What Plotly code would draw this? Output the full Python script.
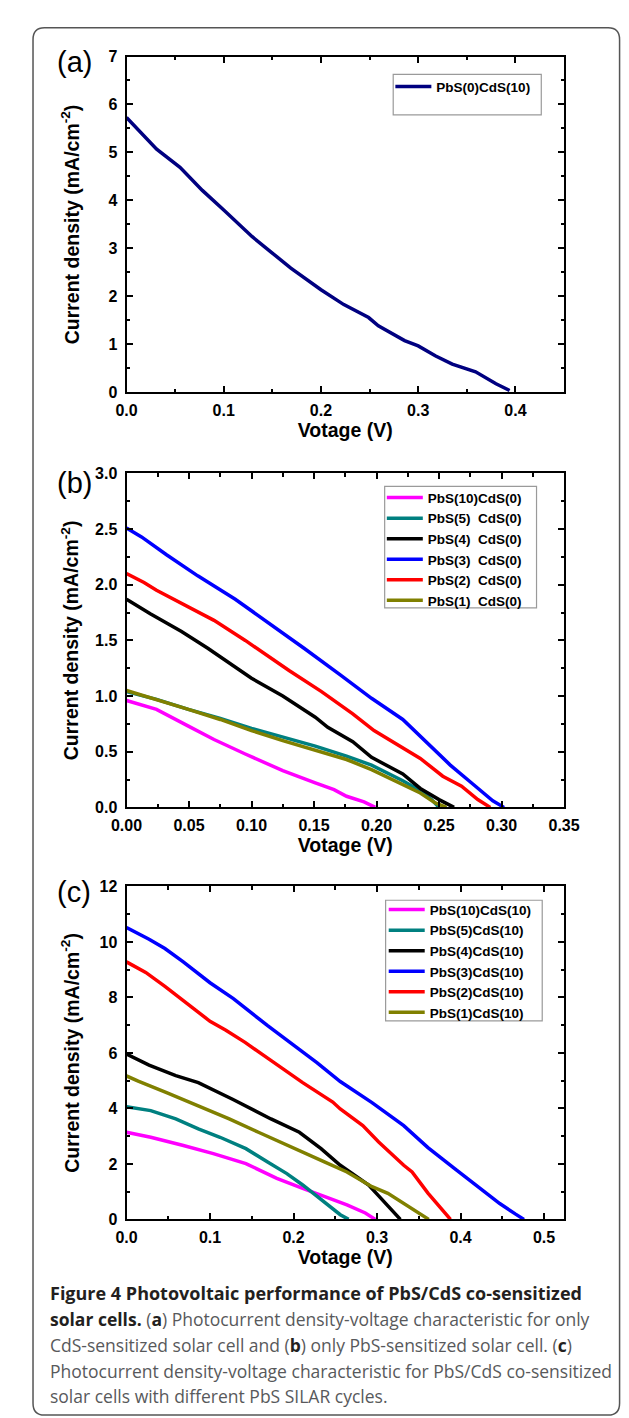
import plotly.graph_objects as go

W, H = 629, 1418

# ---------------- data ----------------
# Panel (a): PbS(0)CdS(10)
a_v = [0.0, 0.031, 0.055, 0.078, 0.100, 0.129, 0.149, 0.169, 0.200, 0.2235, 0.249, 0.259,
       0.286, 0.300, 0.318, 0.335, 0.359, 0.380, 0.394]
a_j = [5.73, 5.07, 4.69, 4.21, 3.80, 3.25, 2.92, 2.59, 2.14, 1.83, 1.56, 1.39,
       1.08, 0.97, 0.76, 0.59, 0.43, 0.18, 0.04]

# Panel (b): only PbS
b_names = ["PbS(10)CdS(0)", "PbS(5)\u00a0\u00a0CdS(0)", "PbS(4)\u00a0\u00a0CdS(0)",
           "PbS(3)\u00a0\u00a0CdS(0)", "PbS(2)\u00a0\u00a0CdS(0)", "PbS(1)\u00a0\u00a0CdS(0)"]
b10_v = [0.0, 0.024, 0.0495, 0.070, 0.095, 0.125, 0.151, 0.166, 0.176, 0.190, 0.199]
b10_j = [0.96, 0.88, 0.73, 0.61, 0.48, 0.33, 0.22, 0.16, 0.10, 0.05, 0.0]
b5_v = [0.0, 0.024, 0.0495, 0.075, 0.100, 0.125, 0.151, 0.176, 0.196, 0.221, 0.235, 0.244, 0.250]
b5_j = [1.04, 0.97, 0.88, 0.80, 0.71, 0.63, 0.55, 0.46, 0.38, 0.24, 0.15, 0.07, 0.0]
b4_v = [0.0, 0.019, 0.044, 0.065, 0.100, 0.125, 0.151, 0.161, 0.181, 0.196, 0.221, 0.235, 0.250, 0.262]
b4_j = [1.87, 1.74, 1.58, 1.43, 1.16, 1.00, 0.81, 0.72, 0.59, 0.45, 0.30, 0.17, 0.07, 0.0]
b3_v = [0.0, 0.012, 0.032, 0.057, 0.087, 0.115, 0.142, 0.171, 0.196, 0.221, 0.240, 0.259,
        0.277, 0.293, 0.302]
b3_j = [2.51, 2.43, 2.27, 2.08, 1.87, 1.65, 1.43, 1.19, 0.98, 0.79, 0.58, 0.38,
        0.21, 0.06, 0.0]
b2_v = [0.0, 0.014, 0.024, 0.044, 0.070, 0.095, 0.130, 0.156, 0.181, 0.198, 0.221,
        0.235, 0.253, 0.268, 0.281, 0.291]
b2_j = [2.10, 2.02, 1.95, 1.83, 1.68, 1.50, 1.23, 1.04, 0.84, 0.69, 0.53,
        0.44, 0.28, 0.19, 0.07, 0.0]
b1_v = [0.0, 0.024, 0.0495, 0.075, 0.100, 0.125, 0.151, 0.176, 0.196, 0.221, 0.235, 0.247, 0.256]
b1_j = [1.05, 0.97, 0.88, 0.79, 0.69, 0.60, 0.51, 0.43, 0.34, 0.21, 0.13, 0.04, 0.0]

# Panel (c): PbS/CdS co-sensitized
c_names = ["PbS(10)CdS(10)", "PbS(5)CdS(10)", "PbS(4)CdS(10)",
           "PbS(3)CdS(10)", "PbS(2)CdS(10)", "PbS(1)CdS(10)"]
c10_v = [0.0, 0.029, 0.067, 0.104, 0.143, 0.180, 0.211, 0.237, 0.264, 0.286, 0.298]
c10_j = [3.14, 2.96, 2.67, 2.37, 2.01, 1.48, 1.12, 0.82, 0.52, 0.23, 0.0]
c5_v = [0.0, 0.029, 0.059, 0.086, 0.112, 0.143, 0.169, 0.192, 0.211, 0.226, 0.241, 0.256, 0.266]
c5_j = [4.06, 3.92, 3.62, 3.26, 2.96, 2.55, 2.07, 1.65, 1.24, 0.88, 0.52, 0.17, 0.0]
c4_v = [0.0, 0.027, 0.059, 0.086, 0.127, 0.173, 0.207, 0.233, 0.256, 0.279, 0.290, 0.302,
        0.317, 0.328]
c4_j = [5.96, 5.56, 5.18, 4.93, 4.33, 3.62, 3.14, 2.55, 1.95, 1.45, 1.24, 0.85,
        0.35, 0.0]
c3_v = [0.0, 0.027, 0.046, 0.068, 0.100, 0.128, 0.169, 0.196, 0.228, 0.256, 0.294, 0.332,
        0.361, 0.393, 0.420, 0.447, 0.466, 0.476]
c3_j = [10.52, 10.10, 9.76, 9.28, 8.53, 7.96, 6.98, 6.38, 5.65, 4.97, 4.21, 3.38,
        2.59, 1.83, 1.20, 0.57, 0.19, 0.0]
c2_v = [0.0, 0.023, 0.046, 0.073, 0.100, 0.119, 0.142, 0.169, 0.196, 0.211, 0.247, 0.256,
        0.283, 0.302, 0.332, 0.342, 0.361, 0.377, 0.388]
c2_j = [9.28, 8.90, 8.40, 7.77, 7.14, 6.82, 6.38, 5.81, 5.24, 4.93, 4.23, 3.98,
        3.38, 2.79, 1.95, 1.71, 0.95, 0.38, 0.0]
c1_v = [0.0, 0.014, 0.048, 0.086, 0.123, 0.158, 0.203, 0.237, 0.264, 0.294, 0.313, 0.332,
        0.362]
c1_j = [5.17, 4.98, 4.57, 4.10, 3.62, 3.14, 2.55, 2.07, 1.71, 1.18, 0.94, 0.58,
        0.0]

colors = ["#FF00FF", "#008080", "#000000", "#0000FF", "#FF0000", "#808000"]

x_title = "Votage (V)"
y_title = "Current density (mA/cm<sup>-2</sup>)"
panel_labels = ["(a)", "(b)", "(c)"]

DARK = "#231f20"
caption_lines = [
    f"<span style='color:{DARK}'><b>Figure 4 Photovoltaic performance of PbS/CdS co-sensitized</b></span>",
    f"<b style='color:{DARK}'>solar cells.</b> (<b style='color:{DARK}'>a</b>) Photocurrent density-voltage characteristic for only",
    f"CdS-sensitized solar cell and (<b style='color:{DARK}'>b</b>) only PbS-sensitized solar cell. (<b style='color:{DARK}'>c</b>)",
    "Photocurrent density-voltage characteristic for PbS/CdS co-sensitized",
    "solar cells with different PbS SILAR cycles.",
]

# ---------------- helpers ----------------
def px(x):
    return x / W

def py(y):
    return 1 - y / H

LW = 3.5
fig = go.Figure()

fig.add_trace(go.Scatter(x=a_v, y=a_j, mode="lines", name="PbS(0)CdS(10)",
                         line=dict(color="#000080", width=LW), xaxis="x", yaxis="y",
                         legend="legend"))

b_data = [(b10_v, b10_j), (b5_v, b5_j), (b4_v, b4_j), (b3_v, b3_j), (b2_v, b2_j), (b1_v, b1_j)]
for (v, j), n, c in zip(b_data, b_names, colors):
    fig.add_trace(go.Scatter(x=v, y=j, mode="lines", name=n, line=dict(color=c, width=LW),
                             xaxis="x2", yaxis="y2", legend="legend2"))

c_data = [(c10_v, c10_j), (c5_v, c5_j), (c4_v, c4_j), (c3_v, c3_j), (c2_v, c2_j), (c1_v, c1_j)]
for (v, j), n, c in zip(c_data, c_names, colors):
    fig.add_trace(go.Scatter(x=v, y=j, mode="lines", name=n, line=dict(color=c, width=LW),
                             xaxis="x3", yaxis="y3", legend="legend3"))

TICKFONT = dict(family="Liberation Sans, Arial", size=16, color="black", weight="bold")
TITLEFONT = dict(family="Liberation Sans, Arial", size=19.5, color="black", weight="bold")

def xax(rng, dtick, mdtick, fmt, anchor, standoff):
    return dict(range=rng, domain=[px(108), px(569)], anchor=anchor, showgrid=False,
                zeroline=False, showline=True, linecolor="black", linewidth=2, mirror="ticks",
                ticks="inside", ticklen=6, tickwidth=1.5, tickcolor="black", dtick=dtick, tick0=0,
                tickformat=fmt, tickfont=TICKFONT, ticklabelstandoff=2,
                title=dict(text=x_title, font=TITLEFONT, standoff=standoff),
                minor=dict(ticks="inside", ticklen=3.5, tickwidth=1.5, tickcolor="black",
                           dtick=mdtick, tick0=0, showgrid=False))

def yax(rng, dtick, mdtick, fmt, anchor, top, bottom, standoff):
    d = xax(rng, dtick, mdtick, fmt, anchor, standoff)
    d["domain"] = [py(bottom), py(top)]
    d["title"] = dict(text=y_title, font=TITLEFONT, standoff=standoff)
    d["ticklabelstandoff"] = 4
    return d

PANELS = [(41, 381), (463, 801), (881, 1218)]

fig.update_layout(
    width=W, height=H, autosize=False,
    margin=dict(l=0, r=0, t=0, b=0),
    paper_bgcolor="white", plot_bgcolor="white",
    xaxis=xax([0, 0.45], 0.1, 0.05, ".1f", "y", 6),
    yaxis=yax([0, 7], 1, 0.5, "d", "x", *PANELS[0], 24),
    xaxis2=xax([0, 0.35], 0.05, 0.025, ".2f", "y2", 4),
    yaxis2=yax([0, 3], 0.5, 0.25, ".1f", "x2", *PANELS[1], 11),
    xaxis3=xax([0, 0.524], 0.1, 0.05, ".1f", "y3", 4),
    yaxis3=yax([0, 12], 2, 1, "d", "x3", *PANELS[2], 15),
    showlegend=True,
)

LEGFONT = dict(family="Liberation Sans, Arial", size=13.5, color="black", weight="bold")
legend_common = dict(bgcolor="rgba(0,0,0,0)", borderwidth=0, font=LEGFONT,
                     xanchor="left", yanchor="top", tracegroupgap=0, itemwidth=36)
fig.update_layout(
    legend=dict(x=px(386), y=py(56), **legend_common),
    legend2=dict(x=px(377), y=py(472), **legend_common),
    legend3=dict(x=px(379), y=py(889), **legend_common),
)

# legend frames
LEG_BOXES = [(389, 59, 545, 100), (380, 476, 540, 599), (381, 895, 546, 1017)]
for (l, t, r, b) in LEG_BOXES:
    fig.add_shape(type="rect", xref="paper", yref="paper", x0=px(l), x1=px(r), y0=py(b), y1=py(t),
                  line=dict(color="#9a9a9a", width=1.2), fillcolor="white", layer="above")

ann = []
for lab, (cx, cy) in zip(panel_labels, [(53, 47), (53, 473), (53, 887)]):
    ann.append(dict(x=px(cx), y=py(cy), xref="paper", yref="paper", text=lab, showarrow=False,
                    font=dict(family="Liberation Sans, Arial", size=29, color="black"),
                    xanchor="center", yanchor="middle"))

for i, line in enumerate(caption_lines):
    size = 18 if i == 0 else 17.5
    ann.append(dict(x=px(25), y=py(1293 + 26 * i), xref="paper", yref="paper", text=line,
                    showarrow=False, font=dict(family="Open Sans", size=size, color="#58595b"),
                    xanchor="left", yanchor="middle", align="left"))

fig.update_layout(annotations=ann)

# rounded frame
x0, x1, y0, y1, r = px(9.5), px(627.5), py(12), py(1416), 12
rx, ry = r / W, r / H
path = (f"M {x0+rx},{y0} L {x1-rx},{y0} Q {x1},{y0} {x1},{y0-ry} "
        f"L {x1},{y1+ry} Q {x1},{y1} {x1-rx},{y1} L {x0+rx},{y1} Q {x0},{y1} {x0},{y1+ry} "
        f"L {x0},{y0-ry} Q {x0},{y0} {x0+rx},{y0} Z")
fig.add_shape(type="path", path=path, xref="paper", yref="paper",
              line=dict(color="#555555", width=1.5), layer="below")

fig.write_html("out.html")
